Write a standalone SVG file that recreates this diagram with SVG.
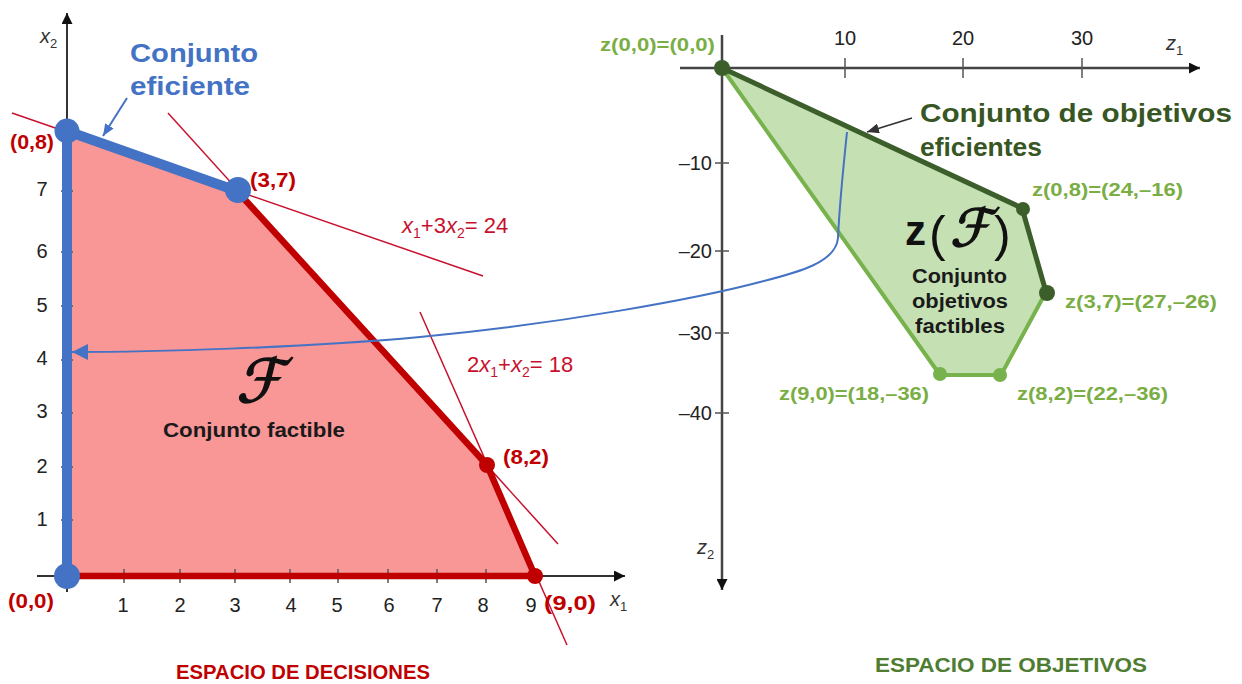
<svg xmlns="http://www.w3.org/2000/svg" width="1242" height="684" viewBox="0 0 1242 684">
<defs>
<style>
text{font-family:"Liberation Sans",Arial,sans-serif;}
.b{font-weight:bold;}
.tick{font-size:20px;fill:#222;}
.axis{stroke:#333;stroke-width:2;fill:none;}
.tk{stroke:#555;stroke-width:1.5;}
.cons{stroke:#c8102e;stroke-width:1.5;fill:none;}
.clab{font-size:22px;fill:#c8102e;}
.plab{font-size:20px;font-weight:bold;fill:#c00000;}
.glab{font-size:19px;font-weight:bold;fill:#7aae45;}
.it{font-style:italic;}
.script{font-family:"DejaVu Serif","DejaVu Sans",serif;stroke:#111;stroke-width:1.6;fill:#111;}
</style>
<marker id="ah" viewBox="0 0 12 12" refX="12" refY="6" markerWidth="12" markerHeight="11" markerUnits="userSpaceOnUse" orient="auto"><path d="M0,0 L12,6 L0,12 z" fill="#111"/></marker>
<marker id="blueBig" viewBox="0 0 16 16" refX="16" refY="8" markerWidth="16" markerHeight="16" markerUnits="userSpaceOnUse" orient="auto"><path d="M0,0 L16,8 L0,16 z" fill="#4472c4"/></marker>
<marker id="blueSm" viewBox="0 0 12 10" refX="12" refY="5" markerWidth="12" markerHeight="10" markerUnits="userSpaceOnUse" orient="auto"><path d="M0,0 L12,5 L0,10 z" fill="#4472c4"/></marker>
<marker id="darkSm" viewBox="0 0 12 10" refX="12" refY="5" markerWidth="12" markerHeight="10" markerUnits="userSpaceOnUse" orient="auto"><path d="M0,0 L12,5 L0,10 z" fill="#333"/></marker>
</defs>
<rect width="1242" height="684" fill="#fff"/>

<!-- Decision space -->
<g id="feasible-region">
<polygon points="67,576 67,131 237,191 487,465 535,576" fill="#f99696"/>
</g>
<g id="decision-axes">
<line class="axis" x1="37" y1="576" x2="625" y2="576" marker-end="url(#ah)"/>
<line class="axis" x1="67" y1="592" x2="67" y2="13" marker-end="url(#ah)"/>
<g class="tk">
<line x1="124" y1="569" x2="124" y2="583"/><line x1="180" y1="569" x2="180" y2="583"/><line x1="235" y1="569" x2="235" y2="583"/><line x1="290" y1="569" x2="290" y2="583"/><line x1="338" y1="569" x2="338" y2="583"/><line x1="388" y1="569" x2="388" y2="583"/><line x1="437" y1="569" x2="437" y2="583"/><line x1="486" y1="569" x2="486" y2="583"/>
<line x1="61" y1="191" x2="73" y2="191"/><line x1="61" y1="252" x2="73" y2="252"/><line x1="61" y1="306" x2="73" y2="306"/><line x1="61" y1="360" x2="73" y2="360"/><line x1="61" y1="413" x2="73" y2="413"/><line x1="61" y1="467" x2="73" y2="467"/><line x1="61" y1="520" x2="73" y2="520"/>
</g>
<g class="tick" text-anchor="middle">
<text x="123" y="612">1</text><text x="180" y="612">2</text><text x="235" y="612">3</text><text x="291" y="612">4</text><text x="337" y="612">5</text><text x="389" y="612">6</text><text x="437" y="612">7</text><text x="483" y="612">8</text><text x="531" y="612">9</text>
<text x="42" y="196">7</text><text x="42" y="258">6</text><text x="42" y="312">5</text><text x="42" y="365">4</text><text x="42" y="418">3</text><text x="42" y="473">2</text><text x="42" y="526">1</text>
</g>
<text x="610" y="606" font-size="20" fill="#333"><tspan class="it">x</tspan><tspan font-size="13" dy="5">1</tspan></text>
<text x="40" y="43" font-size="20" fill="#333"><tspan class="it">x</tspan><tspan font-size="13" dy="5">2</tspan></text>
</g>

<g id="constraint-lines">
<line class="cons" x1="12" y1="113" x2="483" y2="276"/>
<line class="cons" x1="168" y1="113" x2="558" y2="544"/>
<line class="cons" x1="420" y1="312" x2="567" y2="645"/>
<text class="clab" x="402" y="233"><tspan class="it">x</tspan><tspan font-size="14" dy="5">1</tspan><tspan dy="-5">+3</tspan><tspan class="it">x</tspan><tspan font-size="14" dy="5">2</tspan><tspan dy="-5">= 24</tspan></text>
<text class="clab" x="467" y="372">2<tspan class="it">x</tspan><tspan font-size="14" dy="5">1</tspan><tspan dy="-5">+</tspan><tspan class="it">x</tspan><tspan font-size="14" dy="5">2</tspan><tspan dy="-5">= 18</tspan></text>
</g>

<g id="feasible-boundary">
<path d="M237,191 L487,465 L535,576 L67,576" fill="none" stroke="#c00000" stroke-width="6.5" stroke-linejoin="round"/>
<path d="M67,576 L67,131 L237,191" fill="none" stroke="#4472c4" stroke-width="10" stroke-linejoin="round"/>
</g>

<g id="vertex-0-8"><circle cx="67" cy="131" r="12.5" fill="#4472c4"/><text class="plab" x="10" y="149" textLength="44" lengthAdjust="spacingAndGlyphs">(0,8)</text></g>
<g id="vertex-3-7"><circle cx="238" cy="190" r="13" fill="#4472c4"/><text class="plab" x="250" y="187" textLength="46" lengthAdjust="spacingAndGlyphs">(3,7)</text></g>
<g id="vertex-8-2"><circle cx="487" cy="465" r="8" fill="#c00000"/><text class="plab" x="503" y="464" textLength="46" lengthAdjust="spacingAndGlyphs">(8,2)</text></g>
<g id="vertex-9-0"><circle cx="535" cy="576" r="8" fill="#c00000"/><text class="plab" x="544" y="610" textLength="52" lengthAdjust="spacingAndGlyphs">(9,0)</text></g>
<g id="vertex-0-0"><circle cx="67" cy="576" r="13" fill="#4472c4"/><text class="plab" x="8" y="608" textLength="46" lengthAdjust="spacingAndGlyphs">(0,0)</text></g>

<g id="label-feasible">
<text class="script" x="0" y="0" font-size="60" transform="translate(236,402) skewX(-14)">ℱ</text>
<text class="b" x="163" y="437" font-size="20" fill="#1a1a1a" textLength="182" lengthAdjust="spacingAndGlyphs">Conjunto factible</text>
</g>

<g id="label-efficient">
<text class="b" x="130" y="62" font-size="25" fill="#4472c4" textLength="128" lengthAdjust="spacingAndGlyphs">Conjunto</text>
<text class="b" x="130" y="95" font-size="25" fill="#4472c4" textLength="120" lengthAdjust="spacingAndGlyphs">eficiente</text>
</g>

<!-- Objective space -->
<g id="objective-region">
<polygon points="722,68 1022,208 1046,292 1001,375 940,375" fill="#c5e0b3"/>
<path d="M1046,292 L1001,375 L940,375 L722,68" fill="none" stroke="#77b24c" stroke-width="4" stroke-linejoin="round"/>
<path d="M722,68 L1022,208 L1046,292" fill="none" stroke="#3b5e2b" stroke-width="5" stroke-linejoin="round"/>
</g>

<g id="objective-axes">
<line x1="680" y1="68" x2="1200" y2="68" stroke="#444" stroke-width="2.5" marker-end="url(#ah)"/>
<line x1="722" y1="35" x2="722" y2="590" stroke="#444" stroke-width="2.5" marker-end="url(#ah)"/>
<g class="tk">
<line x1="845" y1="58" x2="845" y2="78"/><line x1="963" y1="58" x2="963" y2="78"/><line x1="1082" y1="58" x2="1082" y2="78"/>
<line x1="715" y1="163" x2="729" y2="163"/><line x1="715" y1="251" x2="729" y2="251"/><line x1="715" y1="333" x2="729" y2="333"/><line x1="715" y1="413" x2="729" y2="413"/>
</g>
<g class="tick" text-anchor="middle">
<text x="845" y="45">10</text><text x="963" y="45">20</text><text x="1082" y="45">30</text>
</g>
<g class="tick" text-anchor="end">
<text x="712" y="170">–10</text><text x="712" y="258">–20</text><text x="712" y="340">–30</text><text x="712" y="420">–40</text>
</g>
<text x="1166" y="50" font-size="20" fill="#333"><tspan class="it">z</tspan><tspan font-size="13" dy="5">1</tspan></text>
<text x="697" y="554" font-size="20" fill="#333"><tspan class="it">z</tspan><tspan font-size="13" dy="5">2</tspan></text>
</g>

<g id="zvertex-0-0"><circle cx="722" cy="68" r="8" fill="#3b5e2b"/><text class="glab" x="600" y="51" textLength="115" lengthAdjust="spacingAndGlyphs">z(0,0)=(0,0)</text></g>
<g id="zvertex-0-8"><circle cx="1023" cy="209" r="7" fill="#3b5e2b"/><text class="glab" x="1032" y="196" textLength="151" lengthAdjust="spacingAndGlyphs">z(0,8)=(24,–16)</text></g>
<g id="zvertex-3-7"><circle cx="1047" cy="293" r="8" fill="#3b5e2b"/><text class="glab" x="1065" y="308" textLength="152" lengthAdjust="spacingAndGlyphs">z(3,7)=(27,–26)</text></g>
<g id="zvertex-8-2"><circle cx="1000" cy="375" r="7" fill="#77b24c"/><text class="glab" x="1017" y="400" textLength="151" lengthAdjust="spacingAndGlyphs">z(8,2)=(22,–36)</text></g>
<g id="zvertex-9-0"><circle cx="940" cy="374" r="7" fill="#77b24c"/><text class="glab" x="779" y="400" textLength="150" lengthAdjust="spacingAndGlyphs">z(9,0)=(18,–36)</text></g>

<g id="label-zF">
<text x="905" y="245" font-size="42" class="b" fill="#111">z</text>
<text x="929" y="251" font-size="50" fill="#111" font-family="Liberation Serif,serif">(</text>
<text class="script" x="0" y="0" font-size="52" transform="translate(950,246) skewX(-14)">ℱ</text>
<text x="994" y="251" font-size="50" fill="#111" font-family="Liberation Serif,serif">)</text>
<text class="b" x="912" y="283" font-size="20" fill="#1a1a1a" textLength="95" lengthAdjust="spacingAndGlyphs">Conjunto</text>
<text class="b" x="912" y="308" font-size="20" fill="#1a1a1a" textLength="96" lengthAdjust="spacingAndGlyphs">objetivos</text>
<text class="b" x="915" y="333" font-size="20" fill="#1a1a1a" textLength="90" lengthAdjust="spacingAndGlyphs">factibles</text>
</g>

<g id="label-efficient-objectives">
<text class="b" x="920" y="122" font-size="25" fill="#375623" textLength="312" lengthAdjust="spacingAndGlyphs">Conjunto de objetivos</text>
<text class="b" x="920" y="156" font-size="25" fill="#375623" textLength="122" lengthAdjust="spacingAndGlyphs">eficientes</text>
</g>

<g id="connectors">
<path d="M847,132 C843,170 839,215 838,238 C836,262 800,272 760,282 C700,298 560,324 420,337 C300,348 150,352 72,352" fill="none" stroke="#4472c4" stroke-width="2" marker-end="url(#blueBig)"/>
<line x1="127" y1="98" x2="103" y2="136" stroke="#4472c4" stroke-width="2" marker-end="url(#blueSm)"/>
<line x1="912" y1="118" x2="867" y2="132" stroke="#333" stroke-width="1.8" marker-end="url(#darkSm)"/>
</g>

<g id="titles">
<text class="b" x="176" y="679" font-size="20" fill="#c00000" textLength="254" lengthAdjust="spacingAndGlyphs">ESPACIO DE DECISIONES</text>
<text class="b" x="875" y="672" font-size="20" fill="#4e7d32" textLength="272" lengthAdjust="spacingAndGlyphs">ESPACIO DE OBJETIVOS</text>
</g>
</svg>
